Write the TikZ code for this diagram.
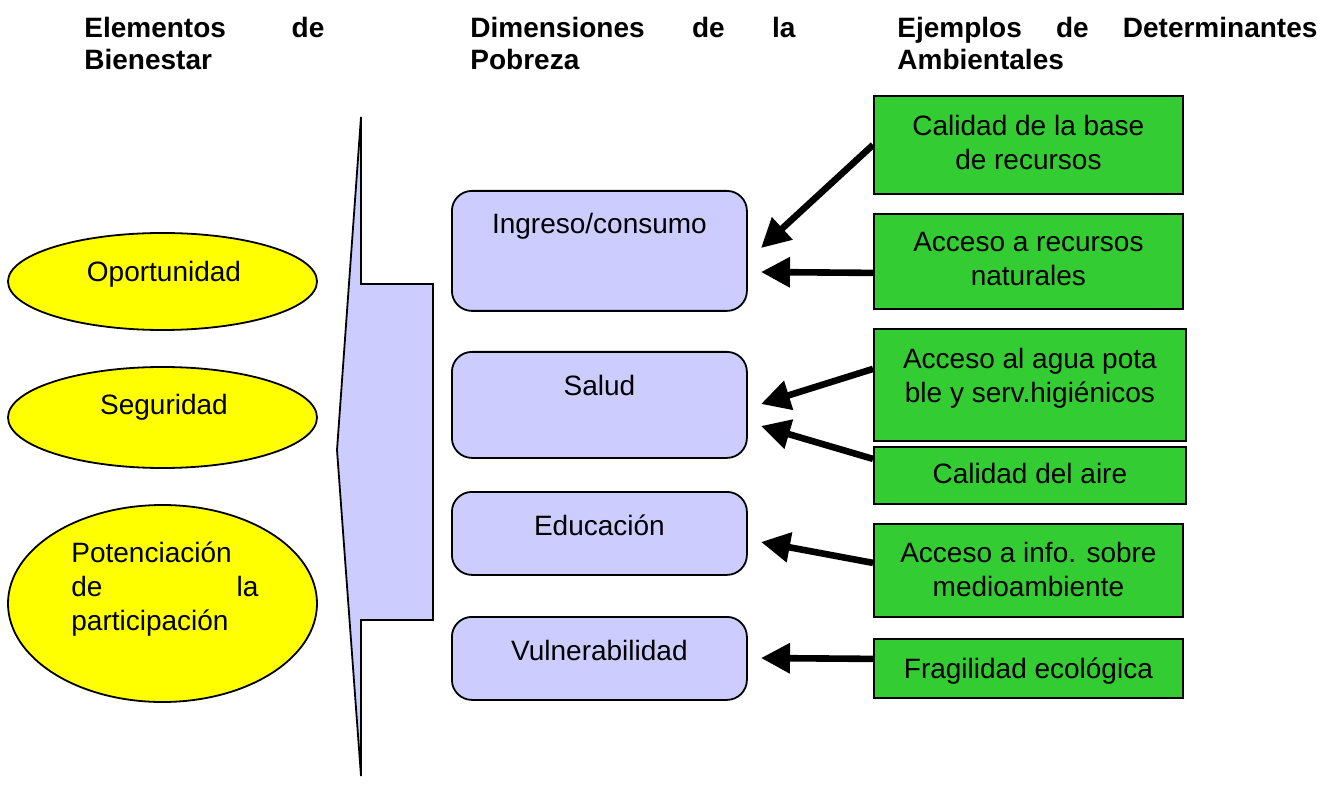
\documentclass[tikz,border=0pt]{standalone}
\usepackage{fontspec}
\setmainfont{Liberation Sans}
\usetikzlibrary{arrows.meta,shapes.geometric,calc}
\definecolor{lavender}{HTML}{CCCCFF}
\definecolor{leaf}{HTML}{33CC33}
\definecolor{lemon}{HTML}{FFFF00}
\begin{document}
\begin{tikzpicture}[x=0.5pt, y=-0.5pt,
        elem/.style={draw, line width=0.9pt, fill=lemon, ellipse, inner sep=0pt, minimum width=154.5pt},
        dim/.style={draw, line width=0.9pt, fill=lavender, rounded corners=10pt, inner sep=0pt, minimum width=147.5pt, anchor=north west},
        env/.style={draw, line width=0.9pt, fill=leaf, inner sep=0pt, anchor=north west},
        txt/.style={font=\fontsize{14}{17}\selectfont, inner sep=0pt, align=center, anchor=base},
        head/.style={font=\fontsize{14}{16}\selectfont\bfseries, inner sep=0pt, align=left, anchor=base west},
        arr/.style={line width=3.3pt, -{Triangle[length=14.5pt, width=14.5pt]}}]

            % the frame
            \useasboundingbox (0, 0) rectangle (1336, 790);

            % headings (base = last line)
            \node[head] (hElem) at (84, 70) {\makebox[120pt][s]{Elementos de}\\Bienestar};
            \node[head] (hDim) at (470, 70) {\makebox[162.5pt][s]{Dimensiones de la}\\Pobreza};
            \node[head] (hEnv) at (897, 70) {\makebox[210pt][s]{Ejemplos de Determinantes}\\Ambientales};

            % elements of well-being
            \node[elem, minimum height=48.5pt] (op) at (162.5, 281.5) {};
            \node[elem, minimum height=50.5pt] (seg) at (162.5, 417.5) {};
            \node[elem, minimum height=98.5pt] (pot) at (162.5, 603.5) {};
            \node[txt] (tOp) at (164, 282) {Oportunidad};
            \node[txt] (tSeg) at (164, 415) {Seguridad};
            \node[txt, align=left, anchor=base west] (tPot) at (71, 630)
                {Potenciación\\\makebox[93.5pt][s]{de la}\\participación};

            % the brace
            \draw[line width=0.9pt, fill=lavender] (361, 117) -- (361, 284) -- (433, 284) -- (433, 620)
                -- (361, 620) -- (361, 776) -- (337, 450) -- cycle;

            % dimensions of poverty
            \foreach \n/\top/\h/\txt in {1/190/60/{Ingreso/consumo}, 2/351/53/Salud,
                    3/491/41.5/Educación, 4/616/41.5/Vulnerabilidad} {
                \node[dim, minimum height=\h pt] (p\n) at (451, \top) {};
                \node[txt] (tp\n) at ($(p\n.north)+(0, 44)$) {\txt};
            }

            % environmental determinants
            \node[env, minimum width=154.5pt, minimum height=49pt] (g1) at (873, 95) {};
            \node[env, minimum width=154.5pt, minimum height=47.5pt] (g2) at (873, 213) {};
            \node[env, minimum width=156pt, minimum height=56pt] (g3) at (873, 328) {};
            \node[env, minimum width=156pt, minimum height=28.5pt] (g4) at (873, 446) {};
            \node[env, minimum width=154.5pt, minimum height=46.5pt] (g5) at (873, 523) {};
            \node[env, minimum width=154.5pt, minimum height=29.5pt] (g6) at (873, 638) {};

            \node[txt] (tg1) at (g1.north |- 0, 170) {Calidad de la base\\de recursos};
            \node[txt] (tg2) at (g2.north |- 0, 286) {Acceso a recursos\\naturales};
            \node[txt] (tg3) at (g3.north |- 0, 402) {Acceso al agua pota\\ble y serv.higiénicos};
            \node[txt] (tg4) at (g4.north |- 0, 483) {Calidad del aire};
            \node[txt] (tg5) at (g5.north |- 0, 596) {Acceso a info. sobre\\medioambiente};
            \node[txt] (tg6) at (g6.north |- 0, 678) {Fragilidad ecológica};

            % arrows
            \coordinate (e1) at (761, 248);
            \coordinate (e2) at (761, 272);
            \coordinate (e3) at (761, 404);
            \coordinate (e4) at (761, 426);
            \coordinate (e5) at (761, 542);
            \coordinate (e6) at (761, 658);

            \draw[arr] (g1.west) -- (e1);
            \draw[arr] ($(g2.west)+(0, 11.5)$) -- (e2);
            \draw[arr] ($(g3.west)+(0, -16)$) -- (e3);
            \draw[arr] ($(g4.west)+(0, -16.5)$) -- (e4);
            \draw[arr] ($(g5.west)+(0, -7.5)$) -- (e5);
            \draw[arr] ($(g6.west)+(0, -9.5)$) -- (e6);

        \end{tikzpicture}
\end{document}
